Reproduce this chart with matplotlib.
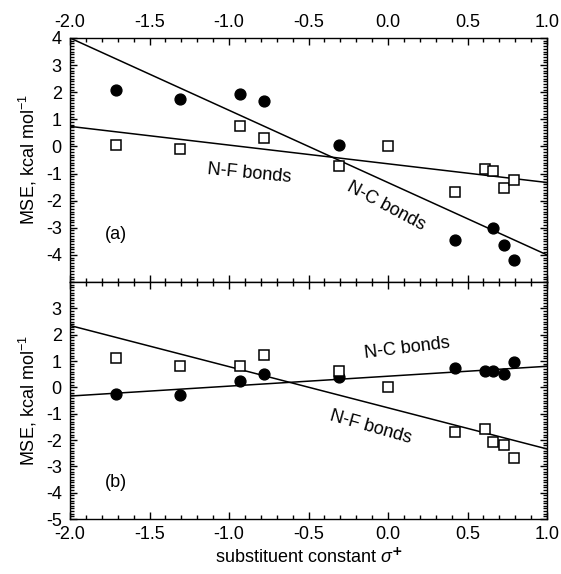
import numpy as np
import matplotlib
matplotlib.use("Agg")
import matplotlib.pyplot as plt
from matplotlib.ticker import MultipleLocator

plt.rcParams['font.family'] = ['Liberation Sans', 'DejaVu Sans']
plt.rcParams['axes.unicode_minus'] = False
plt.rcParams['mathtext.fontset'] = 'custom'
plt.rcParams['mathtext.rm'] = 'Liberation Sans'
plt.rcParams['mathtext.it'] = 'Liberation Sans:italic'

# substituent constants sigma+
sigma = [-1.71, -1.31, -0.93, -0.78, -0.31, 0.00, 0.42, 0.61, 0.66, 0.73, 0.79]

# (a) mean signed errors
a_nc_x = [-1.71, -1.31, -0.93, -0.78, -0.31, 0.42, 0.66, 0.73, 0.79]
a_nc_y = [2.10, 1.74, 1.94, 1.67, 0.06, -3.44, -3.02, -3.62, -4.17]
a_nf_y = [0.07, -0.10, 0.75, 0.32, -0.72, 0.01, -1.67, -0.84, -0.90, -1.54, -1.22]

# (b) mean signed errors
b_nc_x = [-1.71, -1.31, -0.93, -0.78, -0.31, 0.42, 0.61, 0.66, 0.73, 0.79]
b_nc_y = [-0.26, -0.28, 0.23, 0.50, 0.38, 0.74, 0.63, 0.63, 0.51, 0.95]
b_nf_y = [1.12, 0.80, 0.80, 1.21, 0.63, 0.00, -1.70, -1.60, -2.09, -2.19, -2.70]

# linear fits: (slope, intercept)
a_nc_fit = (-2.667, -1.333)
a_nf_fit = (-0.690, -0.640)
b_nc_fit = (0.377, 0.423)
b_nf_fit = (-1.563, -0.777)

FS = 13

fig = plt.figure(figsize=(5.61, 5.74), dpi=100)
ax1 = fig.add_axes([0.1248, 0.5087, 0.8503, 0.4251])
ax2 = fig.add_axes([0.1248, 0.0958, 0.8503, 0.4129])

xfit = np.array([-2.0, 1.0])


def style(ax):
    ax.set_xlim(-2.0, 1.0)
    ax.set_ylim(-5, 4)
    ax.xaxis.set_major_locator(MultipleLocator(0.5))
    ax.xaxis.set_minor_locator(MultipleLocator(0.1))
    ax.yaxis.set_minor_locator(MultipleLocator(0.1))
    ax.tick_params(which='both', direction='in', top=True, bottom=True,
                   left=True, right=True, width=1.0, labelsize=FS)
    ax.tick_params(which='major', length=5)
    ax.tick_params(which='minor', length=2.8)
    ax.tick_params(axis='x', pad=5)
    ax.tick_params(axis='y', pad=6)
    for s in ax.spines.values():
        s.set_linewidth(1.0)
    ax.xaxis.set_major_formatter(matplotlib.ticker.FormatStrFormatter('%.1f'))
    ax.set_ylabel("MSE, kcal mol$^{-1}$", fontsize=FS, labelpad=5)


def draw(ax, nc_x, nc_y, nf_y, nc_fit, nf_fit):
    ax.plot(xfit, nc_fit[0] * xfit + nc_fit[1], color='black', lw=1.1, zorder=2)
    ax.plot(xfit, nf_fit[0] * xfit + nf_fit[1], color='black', lw=1.1, zorder=2)
    ax.plot(nc_x, nc_y, 'o', color='black', ms=7.8, zorder=3)
    ax.plot(sigma, nf_y, 's', mfc='white', mec='black', mew=1.1, ms=7.6, zorder=4)


style(ax1)
draw(ax1, a_nc_x, a_nc_y, a_nf_y, a_nc_fit, a_nf_fit)
ax1.set_yticks(range(-4, 5))
ax1.xaxis.set_ticks_position('both')
ax1.tick_params(labeltop=True, labelbottom=False)
ax1.text(-1.71, -3.25, "(a)", fontsize=FS, ha='center', va='center')
ax1.text(-0.87, -1.0, "N-F bonds", fontsize=FS, ha='center', va='center', rotation=-5.5)
ax1.text(-0.01, -2.22, "N-C bonds", fontsize=FS, ha='center', va='center', rotation=-28)

style(ax2)
draw(ax2, b_nc_x, b_nc_y, b_nf_y, b_nc_fit, b_nf_fit)
ax2.set_yticks(range(-5, 4))
ax2.text(-1.71, -3.62, "(b)", fontsize=FS, ha='center', va='center')
ax2.text(0.12, 1.48, "N-C bonds", fontsize=FS, ha='center', va='center', rotation=7)
ax2.text(-0.11, -1.5, "N-F bonds", fontsize=FS, ha='center', va='center', rotation=-16)
ax2.set_xlabel(r"substituent constant $\sigma^{\mathbf{+}}$", fontsize=FS, labelpad=3)

fig.savefig("out.png", dpi=100)
